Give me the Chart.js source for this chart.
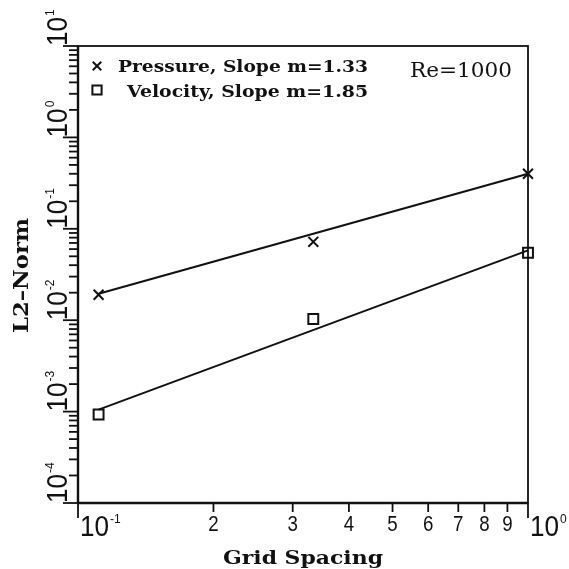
<!DOCTYPE html>
<html>
<head>
<meta charset="utf-8">
<script src="https://cdn.jsdelivr.net/npm/chart.js@4.4.0/dist/chart.umd.min.js"></script>
<style>
html, body { margin: 0; padding: 0; background: #fff; }
#wrap { width: 569px; height: 569px; }
</style>
</head>
<body>
<div id="wrap"><canvas id="myChart" width="569" height="569"></canvas></div>
<script>
// grid spacing (x) and L2 norm of the error (y)
const gridSpacing = [1/9, 1/3, 1];
const pressureNorm = [0.019, 0.072, 0.40];
const velocityNorm = [0.00093, 0.0103, 0.0546];
// least squares lines, end points
const fitSpacing = [1/9, 1];
const pressureFit = [0.0195, 0.40];
const velocityFit = [0.00105, 0.058];

const seriesLabels = ['Pressure, Slope m=1.33', 'Velocity, Slope m=1.85'];
const xDecades = [0.1, 1];
const xDecadeExp = ['-1', '0'];
const xMinorLabels = ['2', '3', '4', '5', '6', '7', '8', '9'];
const yDecades = [1e-4, 1e-3, 1e-2, 1e-1, 1, 10];
const yDecadeExp = ['-4', '-3', '-2', '-1', '0', '1'];
const reLabel = 'Re=1000';
const xTitle = 'Grid Spacing';
const yTitle = 'L2\u2013Norm';

const ink = '#111';

function toPoints(xs, ys) {
    return xs.map((v, i) => ({x: v, y: ys[i]}));
}

// draw text squeezed/stretched to a given width
function fitText(ctx, str, x, y, width) {
    let w = ctx.measureText(str).width;
    ctx.save();
    ctx.translate(x, y);
    ctx.scale(width / w, 1);
    ctx.fillText(str, 0, 0);
    ctx.restore();
}

// "10" with a raised exponent, starting at (0,0) on the baseline
function drawPower(ctx, exp) {
    ctx.font = '29px "Liberation Sans"';
    ctx.textAlign = 'left';
    ctx.textBaseline = 'alphabetic';
    ctx.save();
    ctx.scale(0.9, 1);
    ctx.fillText('10', 0, 0);
    let w = ctx.measureText('10').width * 0.9;
    ctx.restore();
    ctx.font = '12px "Liberation Sans"';
    ctx.fillText(exp, w + 1, -13);
}

const axesPlugin = {
    id: 'logAxes',
    afterDraw(chart) {
        const ctx = chart.ctx;
        const a = chart.chartArea;
        const x = chart.scales.x;
        const y = chart.scales.y;
        ctx.save();
        ctx.strokeStyle = ink;
        ctx.fillStyle = ink;

        // frame
        ctx.lineWidth = 1.8;
        ctx.strokeRect(a.left, a.top, a.right - a.left, a.bottom - a.top);
        ctx.lineWidth = 2.4;
        ctx.beginPath();
        ctx.moveTo(a.left, a.top);
        ctx.lineTo(a.left, a.bottom);
        ctx.lineTo(a.right, a.bottom);
        ctx.stroke();

        // x ticks and labels
        ctx.lineWidth = 1.8;
        xDecades.forEach((d, i) => {
            let px = x.getPixelForValue(d);
            ctx.beginPath();
            ctx.moveTo(px, a.bottom);
            ctx.lineTo(px, a.bottom + 15);
            ctx.stroke();
            ctx.save();
            ctx.translate(px + 2, a.bottom + 33);
            drawPower(ctx, xDecadeExp[i]);
            ctx.restore();
        });
        ctx.font = '22px "Liberation Sans"';
        ctx.textAlign = 'center';
        ctx.textBaseline = 'alphabetic';
        xMinorLabels.forEach((lab, k) => {
            let px = x.getPixelForValue(xDecades[0] * (k + 2));
            ctx.beginPath();
            ctx.moveTo(px, a.bottom);
            ctx.lineTo(px, a.bottom + 9);
            ctx.stroke();
            ctx.save();
            ctx.translate(px, a.bottom + 28);
            ctx.scale(0.85, 1);
            ctx.fillText(lab, 0, 0);
            ctx.restore();
        });

        // y ticks and labels
        yDecades.forEach((d, i) => {
            let py = y.getPixelForValue(d);
            ctx.beginPath();
            ctx.moveTo(a.left - 15, py);
            ctx.lineTo(a.left, py);
            ctx.stroke();
            if (i < yDecades.length - 1) {
                for (let k = 2; k <= 9; k++) {
                    let pm = y.getPixelForValue(d * k);
                    ctx.beginPath();
                    ctx.moveTo(a.left - 9, pm);
                    ctx.lineTo(a.left, pm);
                    ctx.stroke();
                }
            }
            ctx.save();
            ctx.translate(a.left - 11, py);
            ctx.rotate(-Math.PI / 2);
            drawPower(ctx, yDecadeExp[i]);
            ctx.restore();
        });

        // axis titles
        ctx.font = 'bold 19px "DejaVu Serif"';
        ctx.textAlign = 'left';
        ctx.textBaseline = 'alphabetic';
        fitText(ctx, xTitle, 223, 564, 160);
        ctx.save();
        ctx.translate(28, 333);
        ctx.rotate(-Math.PI / 2);
        ctx.font = 'bold 20px "DejaVu Serif"';
        fitText(ctx, yTitle, 0, 0, 115);
        ctx.restore();

        // legend
        ctx.font = 'bold 16px "DejaVu Serif"';
        const legendPos = [[97, 66, 118, 72], [97, 90, 127, 97]];
        chart.data.datasets.slice(0, 2).forEach((ds, i) => {
            let p = legendPos[i];
            ctx.save();
            ctx.fillStyle = 'rgba(0,0,0,0)';
            ctx.lineWidth = 2;
            Chart.helpers.drawPoint(ctx, {pointStyle: ds.pointStyle, radius: i == 0 ? 6 : 6.5, borderWidth: 2, rotation: 0}, p[0], p[1]);
            ctx.restore();
            fitText(ctx, ds.label, p[2], p[3], 368 - p[2]);
        });

        // Reynolds number
        ctx.font = '20px "DejaVu Serif"';
        fitText(ctx, reLabel, 410, 77, 102);
        ctx.restore();
    }
};

let ctx = document.getElementById('myChart').getContext('2d');
let chart = new Chart(ctx, {
    type: 'scatter',
    data: {
        datasets: [{
            label: seriesLabels[0],
            data: toPoints(gridSpacing, pressureNorm),
            pointStyle: 'crossRot',
            pointRadius: 7,
            borderColor: ink,
            borderWidth: 2,
            showLine: false,
            clip: false
        }, {
            label: seriesLabels[1],
            data: toPoints(gridSpacing, velocityNorm),
            pointStyle: 'rect',
            pointRadius: 7,
            borderColor: ink,
            backgroundColor: 'rgba(0,0,0,0)',
            borderWidth: 2,
            showLine: false,
            clip: false
        }, {
            label: 'pressure fit',
            data: toPoints(fitSpacing, pressureFit),
            showLine: true,
            pointRadius: 0,
            borderColor: ink,
            borderWidth: 2,
            clip: false
        }, {
            label: 'velocity fit',
            data: toPoints(fitSpacing, velocityFit),
            showLine: true,
            pointRadius: 0,
            borderColor: ink,
            borderWidth: 2,
            clip: false
        }]
    },
    options: {
        responsive: false,
        animation: false,
        layout: { padding: { left: 70, right: 41, top: 46, bottom: 58 } },
        scales: {
            x: {
                type: 'logarithmic', min: 0.1, max: 1,
                ticks: { display: false },
                grid: { display: false },
                border: { display: false }
            },
            y: {
                type: 'logarithmic', min: 1e-4, max: 10,
                ticks: { display: false },
                grid: { display: false },
                border: { display: false }
            }
        },
        plugins: {
            legend: { display: false },
            tooltip: { enabled: false }
        }
    },
    plugins: [axesPlugin]
});
</script>
</body>
</html>
